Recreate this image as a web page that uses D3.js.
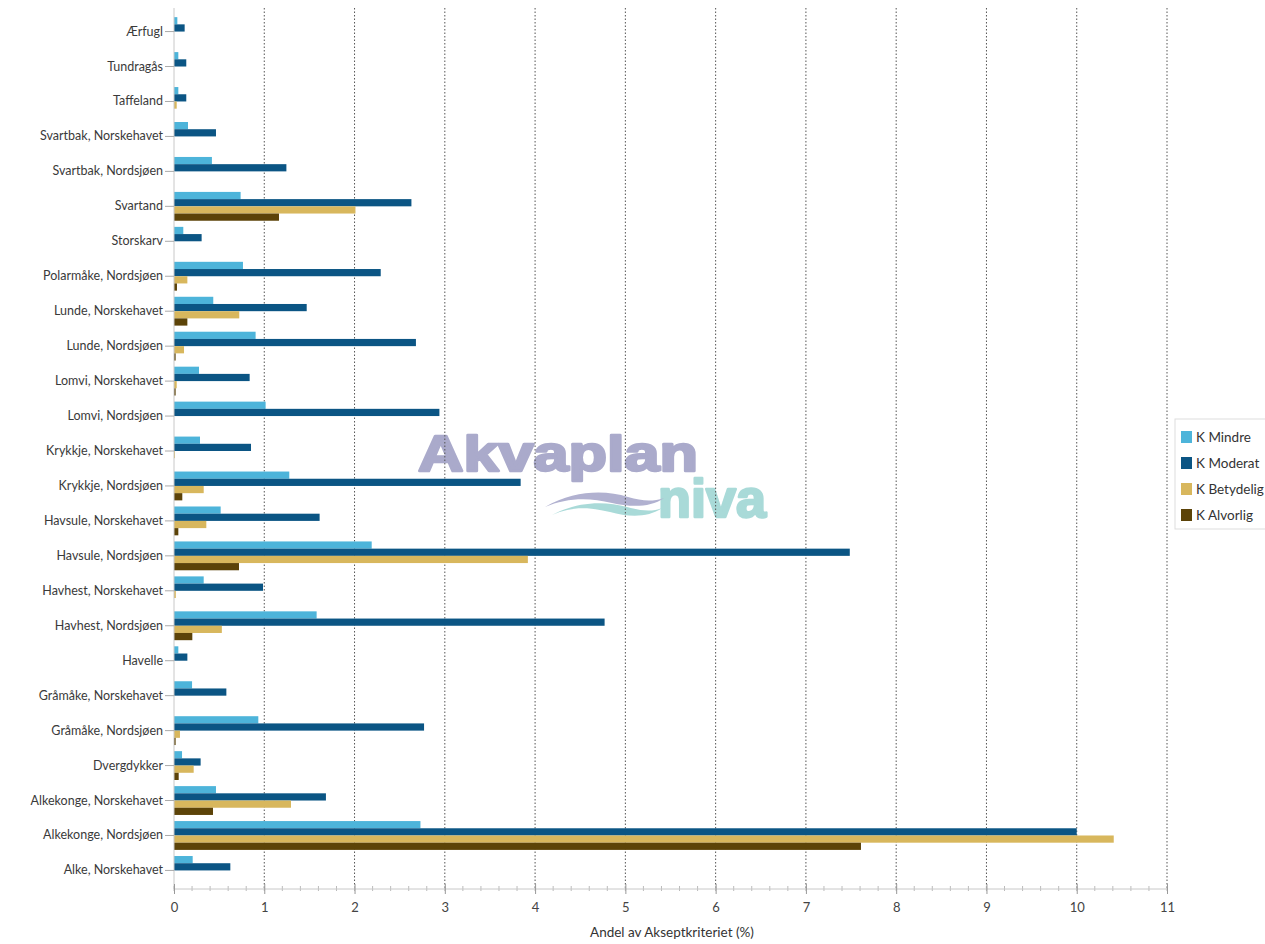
<!DOCTYPE html>
<html><head><meta charset="utf-8">
<script src="https://cdn.jsdelivr.net/npm/d3@7"></script>
<style>
body{margin:0;background:#fff;}
</style></head><body>
<svg id="chart" width="1265" height="944"></svg>
<script>
const categories = ["Ærfugl","Tundragås","Taffeland","Svartbak, Norskehavet","Svartbak, Nordsjøen","Svartand","Storskarv","Polarmåke, Nordsjøen","Lunde, Norskehavet","Lunde, Nordsjøen","Lomvi, Norskehavet","Lomvi, Nordsjøen","Krykkje, Norskehavet","Krykkje, Nordsjøen","Havsule, Norskehavet","Havsule, Nordsjøen","Havhest, Norskehavet","Havhest, Nordsjøen","Havelle","Gråmåke, Norskehavet","Gråmåke, Nordsjøen","Dvergdykker","Alkekonge, Norskehavet","Alkekonge, Nordsjøen","Alke, Norskehavet"];
const seriesNames = ["K Mindre","K Moderat","K Betydelig","K Alvorlig"];
const mindre    = [0.037,0.048,0.048,0.155,0.42,0.738,0.103,0.764,0.435,0.904,0.277,1.015,0.288,1.277,0.517,2.19,0.329,1.58,0.048,0.2,0.934,0.089,0.465,2.73,0.207];
const moderat   = [0.118,0.136,0.136,0.465,1.245,2.63,0.306,2.29,1.47,2.68,0.838,2.94,0.853,3.84,1.613,7.486,0.986,4.77,0.148,0.58,2.77,0.295,1.683,10.0,0.624];
const betydelig = [0,0,0.03,0,0,2.01,0,0.148,0.723,0.111,0.03,0,0.01,0.329,0.358,3.92,0.02,0.53,0,0,0.066,0.218,1.296,10.41,0];
const alvorlig  = [0,0,0,0,0,1.163,0,0.033,0.148,0.018,0.018,0,0,0.092,0.048,0.72,0,0.203,0,0,0.018,0.052,0.432,7.61,0];
const colors = ["#4db4da","#0b5584","#d8b75d","#5c4308"];
const xTicks = [0,1,2,3,4,5,6,7,8,9,10,11];
const xTitle = "Andel av Akseptkriteriet (%)";

(function(){
const seriesValues = [mindre, moderat, betydelig, alvorlig];
const svg = d3.select("#chart");
const mLeft = 174, mRight = 1167, mTop = 14, mBottom = 889;
const labelFont = "Lato, 'Open Sans', sans-serif";

const x = d3.scaleLinear().domain([0,11]).range([mLeft,mRight]);
const y = d3.scaleBand().domain(categories).range([mTop,mBottom-1]).paddingInner(0.175).paddingOuter(0.09);
const ys = d3.scaleBand().domain(seriesNames).range([0,y.bandwidth()]);

// watermark
const wm = svg.append("g").attr("class","watermark");
wm.append("text").attr("x",418).attr("y",471).text("Akvaplan")
  .style("font-family","'Liberation Sans', Arial, sans-serif").style("font-weight","bold")
  .style("font-size","50px").attr("textLength",280).attr("lengthAdjust","spacingAndGlyphs")
  .attr("fill","#aaaacb").attr("stroke","#aaaacb").attr("stroke-width",2.5).attr("stroke-linejoin","round");
wm.append("text").attr("x",658).attr("y",517).text("niva")
  .style("font-family","'Liberation Sans', Arial, sans-serif").style("font-weight","bold")
  .style("font-size","54px").attr("textLength",108).attr("lengthAdjust","spacingAndGlyphs")
  .attr("fill","#a9dad8").attr("stroke","#a9dad8").attr("stroke-width",2.5).attr("stroke-linejoin","round");
wm.append("path").attr("d","M545,507 C575,490 605,490 628,497 C642,501 652,502 664,498 C650,508 630,507 612,503 C588,497 566,498 545,507Z").attr("fill","#b1b1d0");
wm.append("path").attr("d","M552,515 C578,501 605,501 627,507 C642,511 652,512 662,508 C648,518 628,517 610,512 C586,506 570,507 552,515Z").attr("fill","#a9dad8");

// gridlines
svg.append("g").selectAll("line").data(xTicks.filter(d=>d>0)).join("line")
  .attr("x1",d=>x(d)).attr("x2",d=>x(d)).attr("y1",8).attr("y2",mBottom)
  .attr("stroke","#555").attr("stroke-width",1).attr("stroke-dasharray","1.5,2");

// bars
const groups = svg.append("g").selectAll("g").data(categories).join("g")
  .attr("transform",d=>`translate(0,${y(d)})`);
groups.selectAll("rect").data((c,i)=>seriesNames.map((s,j)=>({s, v:seriesValues[j][i], j}))).join("rect")
  .attr("x",x(0)).attr("y",d=>ys(d.s)).attr("height",ys.bandwidth())
  .attr("width",d=>x(d.v)-x(0)).attr("fill",d=>colors[d.j]);

// y axis
const yAxis = d3.axisLeft(y).tickSize(9).tickPadding(2);
const gy = svg.append("g").attr("transform",`translate(${mLeft},0)`).call(yAxis);
gy.select(".domain").attr("stroke","#c8c8c8").attr("d",`M0,${mTop-6}V${mBottom}`);
gy.selectAll(".tick line").attr("stroke","#aaa");
gy.selectAll(".tick text").style("font-size","12.5px").attr("fill","#3a3a3a").style("font-family",labelFont);

// x axis
const minor = d3.range(0,11.001,0.2);
svg.append("g").selectAll("line").data(minor).join("line")
  .attr("x1",d=>x(d)).attr("x2",d=>x(d)).attr("y1",mBottom-3).attr("y2",mBottom+2)
  .attr("stroke","#bbb");
const xAxis = d3.axisBottom(x).tickValues(xTicks).tickSize(5).tickPadding(9).tickFormat(d3.format("d"));
const gx = svg.append("g").attr("transform",`translate(0,${mBottom})`).call(xAxis);
gx.select(".domain").attr("stroke","#c8c8c8").attr("d",`M${mLeft},0H${mRight}`);
gx.selectAll(".tick line").attr("stroke","#999").attr("y1",-5);
gx.selectAll(".tick text").style("font-size","13px").attr("fill","#444").style("font-family",labelFont);
svg.append("text").attr("x",672).attr("y",937).attr("text-anchor","middle")
  .style("font-size","13.5px").style("font-family",labelFont).attr("fill","#333").text(xTitle);

// legend
const lg = svg.append("g");
lg.append("rect").attr("x",1175).attr("y",419).attr("width",100).attr("height",110)
  .attr("fill","#fff").attr("stroke","#ddd");
const li = lg.selectAll("g").data(seriesNames).join("g")
  .attr("transform",(d,i)=>`translate(1181,${431+i*26})`);
li.append("rect").attr("width",11).attr("height",12).attr("fill",(d,i)=>colors[i]);
li.append("text").attr("x",15).attr("y",11).style("font-size","13.5px").style("font-family",labelFont).attr("fill","#333").text(d=>d);
})();
</script>
</body></html>
